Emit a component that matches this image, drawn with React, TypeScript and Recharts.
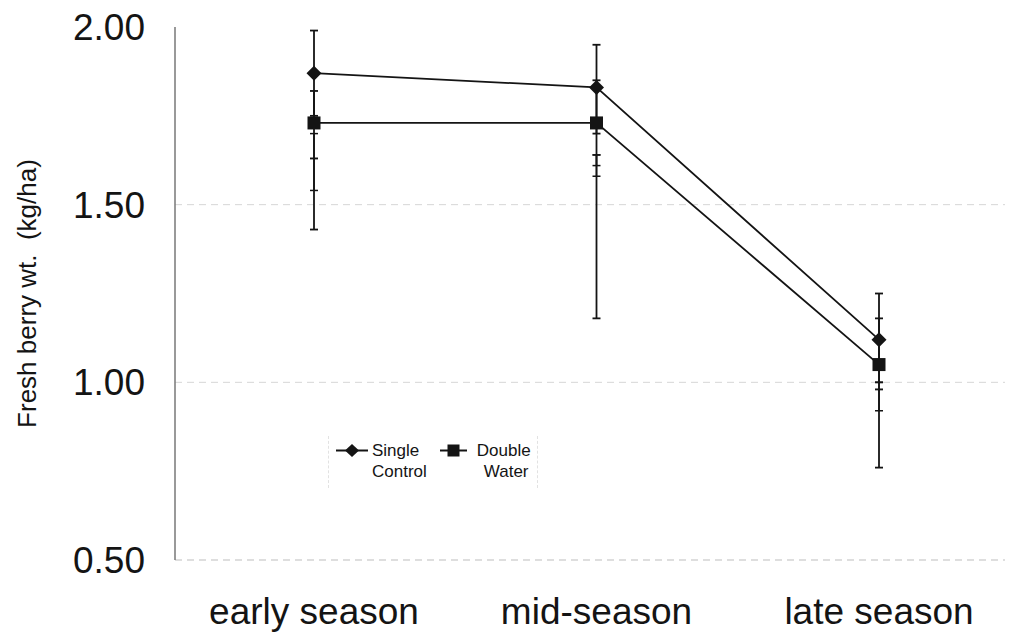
import React from 'react';
import { LineChart, Line, XAxis, YAxis, ErrorBar, ReferenceLine, Legend } from 'recharts';

const seasons = ['early season', 'mid-season', 'late season'];
const singleControl = [1.87, 1.83, 1.12];
const doubleWater = [1.73, 1.73, 1.05];

// whisker ends (the bars overlap, so two per series)
const singleOuterLow = [1.75, 1.7, 1.0];
const singleOuterHigh = [1.99, 1.95, 1.25];
const singleInnerLow = [1.54, 1.58, 0.92];
const singleInnerHigh = [1.63, 1.64, 0.98];
const doubleOuterLow = [1.43, 1.18, 0.76];
const doubleOuterHigh = [1.82, 1.85, 1.18];
const doubleInnerLow = [1.63, 1.61, 0.98];
const doubleInnerHigh = [1.7, 1.64, 1.0];

const yTicks = [0.5, 1.0, 1.5, 2.0];
const gridValues = [0.5, 1.0, 1.5];

const FONT = '"Liberation Sans", Arial, sans-serif';
const INK = '#141414';

const spread = (v: number, lo: number, hi: number) => [v - lo, hi - v];

const data = seasons.map((name, i) => ({
  name,
  single: singleControl[i],
  double: doubleWater[i],
  singleOuter: spread(singleControl[i], singleOuterLow[i], singleOuterHigh[i]),
  singleInner: spread(singleControl[i], singleInnerLow[i], singleInnerHigh[i]),
  doubleOuter: spread(doubleWater[i], doubleOuterLow[i], doubleOuterHigh[i]),
  doubleInner: spread(doubleWater[i], doubleInnerLow[i], doubleInnerHigh[i]),
}));

const Diamond = (props: any) => {
  const { cx, cy } = props;
  if (cx == null || cy == null) return null;
  return <polygon points={`${cx - 7.5},${cy} ${cx},${cy - 7.5} ${cx + 7.5},${cy} ${cx},${cy + 7.5}`} fill={INK} />;
};

const Square = (props: any) => {
  const { cx, cy } = props;
  if (cx == null || cy == null) return null;
  return <rect x={cx - 6.5} y={cy - 6.5} width={13} height={13} fill={INK} />;
};

const legendItems = [
  { lines: ['Single', 'Control'], marker: 'diamond' },
  { lines: ['Double', 'Water'], marker: 'square' },
];

const LegendBox = () => (
  <div
    style={{
      display: 'flex',
      fontFamily: FONT,
      fontSize: 17,
      lineHeight: '21px',
      color: INK,
      borderLeft: '1px dashed #e2e2e2',
      borderRight: '1px dashed #e2e2e2',
      padding: '4px 6px 6px 6px',
    }}
  >
    {legendItems.map((item, i) => (
      <div key={i} style={{ display: 'flex', alignItems: 'flex-start', marginRight: i === 0 ? 12 : 0 }}>
        <svg width={i === 0 ? 34 : 30} height={21} style={{ flex: 'none' }}>
          <line x1={1} y1={10.5} x2={i === 0 ? 33 : 28} y2={10.5} stroke={INK} strokeWidth={2} />
          {item.marker === 'diamond' ? (
            <polygon points="10,10.5 17,4 24,10.5 17,17" fill={INK} />
          ) : (
            <rect x={8.5} y={4.5} width={12} height={12} fill={INK} />
          )}
        </svg>
        <div style={{ marginLeft: i === 0 ? 3 : 8 }}>
          {item.lines.map((l, j) => (
            <div key={j} style={{ paddingLeft: j === 1 && i === 1 ? 7 : 0 }}>{l}</div>
          ))}
        </div>
      </div>
    ))}
  </div>
);

const YTitle = (props: any) => {
  const { viewBox } = props;
  const cy = viewBox ? viewBox.y + viewBox.height / 2 : 291;
  return (
    <text
      x={27}
      y={cy}
      transform={`rotate(-90, 27, ${cy})`}
      textAnchor="middle"
      dominantBaseline="central"
      fontFamily={FONT}
      fontSize={26}
      fill={INK}
    >
      Fresh berry wt.{'\u00a0\u00a0'}(kg/ha)
    </text>
  );
};

export default function App() {
  return (
    <div style={{ position: 'absolute', left: 0, top: 0, background: '#fff' }}>
      <LineChart width={1013} height={635} data={data} margin={{ top: 27, right: 8, bottom: 0, left: 0 }}>
        {gridValues.map((v) => (
          <ReferenceLine key={v} y={v} stroke={v === 0.5 ? '#bdbdbd' : '#d6d6d6'} strokeDasharray="7 5" />
        ))}
        <XAxis
          dataKey="name"
          axisLine={false}
          tickLine={false}
          tickSize={0}
          tickMargin={38}
          height={75}
          padding={{ left: 139, right: 126 }}
          tick={{ fontFamily: FONT, fontSize: 37, fill: INK }}
          interval={0}
        />
        <YAxis
          width={175}
          domain={[0.5, 2.0]}
          ticks={yTicks}
          tickFormatter={(v: number) => v.toFixed(2)}
          axisLine={{ stroke: '#777', strokeWidth: 1.5 }}
          tickLine={false}
          tickSize={0}
          tickMargin={30}
          tick={{ fontFamily: FONT, fontSize: 37, fill: INK }}
          label={<YTitle />}
        />
        <Legend
          verticalAlign="middle"
          layout="horizontal"
          content={() => <LegendBox />}
          wrapperStyle={{ left: 328, top: 436, width: 'auto' }}
        />
        <Line
          type="linear"
          dataKey="single"
          name="Single Control"
          stroke={INK}
          strokeWidth={1.8}
          dot={<Diamond />}
          activeDot={false}
          isAnimationActive={false}
        >
          <ErrorBar dataKey="singleOuter" width={4} stroke={INK} strokeWidth={1.8} direction="y" />
          <ErrorBar dataKey="singleInner" width={4} stroke={INK} strokeWidth={1.5} direction="y" />
        </Line>
        <Line
          type="linear"
          dataKey="double"
          name="Double Water"
          stroke={INK}
          strokeWidth={1.8}
          dot={<Square />}
          activeDot={false}
          isAnimationActive={false}
        >
          <ErrorBar dataKey="doubleOuter" width={4} stroke={INK} strokeWidth={1.8} direction="y" />
          <ErrorBar dataKey="doubleInner" width={4} stroke={INK} strokeWidth={1.5} direction="y" />
        </Line>
      </LineChart>
    </div>
  );
}
